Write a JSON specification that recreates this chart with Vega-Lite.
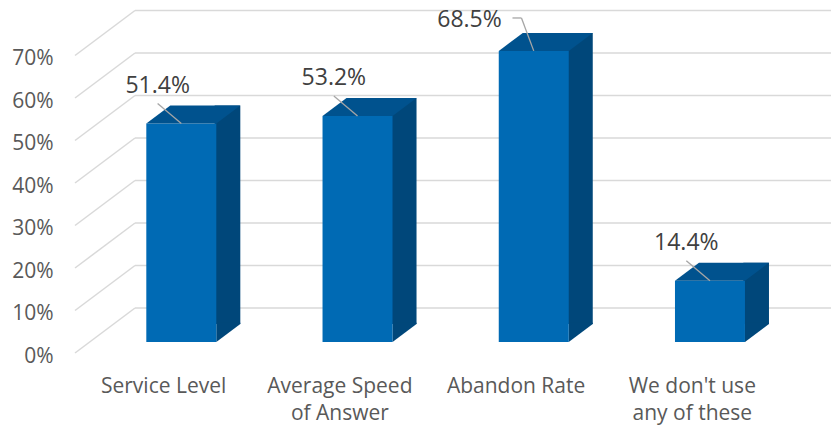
{
  "$schema": "https://vega.github.io/schema/vega-lite/v6.json",
  "width": 756,
  "height": 340,
  "autosize": "none",
  "padding": {"left": 75, "top": 13, "right": 0, "bottom": 77},
  "background": "white",
  "config": {
    "view": {"stroke": null},
    "font": "Open Sans",
    "axisY": {
      "domain": false, "ticks": false, "tickSize": 0, "grid": false,
      "labelPadding": 22, "labelOffset": 3, "labelFont": "Open Sans", "labelFontSize": 21, "labelColor": "#595959"
    }
  },
  "datasets": {
    "responses": [
      {"metric": "Service Level", "share": 0.514},
      {"metric": "Average Speed\nof Answer", "share": 0.532},
      {"metric": "Abandon Rate", "share": 0.685},
      {"metric": "We don't use\nany of these", "share": 0.144}
    ],
    "levels": [
      {"level": 0}, {"level": 0.1}, {"level": 0.2}, {"level": 0.3},
      {"level": 0.4}, {"level": 0.5}, {"level": 0.6}, {"level": 0.7}
    ]
  },
  "layer": [
    {
      "data": {"name": "levels"},
      "mark": {"type": "rule", "color": "#d9d9d9", "strokeWidth": 1.5, "x2Offset": 60, "y2Offset": -45},
      "encoding": {
        "x": {"datum": 0.48, "type": "quantitative", "scale": {"domain": [0.48, 4.77], "nice": false, "zero": false}, "axis": null},
        "x2": {"datum": 0.48},
        "y": {
          "field": "level", "type": "quantitative", "title": null,
          "scale": {"domain": [0, 0.8], "nice": false, "zero": false},
          "axis": {"values": [0, 0.1, 0.2, 0.3, 0.4, 0.5, 0.6, 0.7], "format": "0%"}
        },
        "y2": {"field": "level"}
      }
    },
    {
      "data": {"name": "levels"},
      "mark": {"type": "rule", "color": "#d9d9d9", "strokeWidth": 1.5, "xOffset": 60, "yOffset": -45},
      "encoding": {
        "x": {"datum": 0.48, "type": "quantitative", "axis": null},
        "x2": {"datum": 4.77},
        "y": {"field": "level", "type": "quantitative", "title": null}
      }
    },
    {
      "data": {"name": "responses"},
      "transform": [{"window": [{"op": "row_number", "as": "slot"}]}],
      "encoding": {
        "x": {"field": "slot", "type": "quantitative", "axis": null},
        "y": {"field": "share", "type": "quantitative", "title": null}
      },
      "layer": [
        {
          "mark": {"type": "rect", "color": "#00477a", "xOffset": 48, "x2Offset": 73.67, "yOffset": -29, "y2Offset": -29},
          "encoding": {"x2": {"field": "slot"}, "y2": {"datum": 0}}
        },
        {
          "mark": {"type": "point", "shape": "M-1,0.75L1,-0.75L1,-0.85L-1,-0.85Z", "size": 576, "filled": true, "opacity": 1, "color": "#00477a", "strokeWidth": 0, "xOffset": 61.67, "yOffset": -20},
          "encoding": {"y": {"datum": 0, "type": "quantitative", "title": null}}
        },
        {
          "mark": {"type": "rect", "color": "#006ab4", "xOffset": -20.33, "x2Offset": 49.67, "yOffset": -11, "y2Offset": -11},
          "encoding": {"x2": {"field": "slot"}, "y2": {"datum": 0}}
        },
        {
          "mark": {"type": "point", "shape": "M-1,0.1915L0.4894,0.1915L1,-0.1915L-0.4894,-0.1915Z", "size": 8836, "filled": true, "opacity": 1, "color": "#00528e", "strokeWidth": 0, "xOffset": 26.67, "yOffset": -20}
        },
        {
          "transform": [{"filter": "datum.share < 0.6"}],
          "mark": {"type": "rule", "color": "#a6a6a6", "strokeWidth": 1.3, "xOffset": -9, "yOffset": -31, "x2Offset": 14.67, "y2Offset": -11},
          "encoding": {"x2": {"field": "slot"}, "y2": {"field": "share"}}
        },
        {
          "transform": [{"filter": "datum.share < 0.6"}],
          "mark": {"type": "text", "font": "Open Sans", "fontSize": 23, "color": "#404040", "align": "center", "baseline": "alphabetic", "dx": -9, "dy": -42},
          "encoding": {"text": {"field": "share", "type": "quantitative", "format": ".1%"}}
        },
        {
          "transform": [{"filter": "datum.share >= 0.6"}],
          "mark": {"type": "rule", "color": "#a6a6a6", "strokeWidth": 1.3, "xOffset": -6.6, "yOffset": -43.9, "x2Offset": 2.4, "y2Offset": -43.9},
          "encoding": {"x2": {"field": "slot"}, "y2": {"field": "share"}}
        },
        {
          "transform": [{"filter": "datum.share >= 0.6"}],
          "mark": {"type": "rule", "color": "#a6a6a6", "strokeWidth": 1.3, "xOffset": 2.4, "yOffset": -43.9, "x2Offset": 14.67, "y2Offset": -11},
          "encoding": {"x2": {"field": "slot"}, "y2": {"field": "share"}}
        },
        {
          "transform": [{"filter": "datum.share >= 0.6"}],
          "mark": {"type": "text", "font": "Open Sans", "fontSize": 23, "color": "#404040", "align": "center", "baseline": "alphabetic", "dx": -49.6, "dy": -35},
          "encoding": {"text": {"field": "share", "type": "quantitative", "format": ".1%"}}
        },
        {
          "mark": {"type": "text", "font": "Open Sans", "fontSize": 21, "color": "#595959", "align": "center", "baseline": "alphabetic", "dx": -3, "dy": 40, "lineBreak": "\n", "lineHeight": 27},
          "encoding": {
            "y": {"datum": 0, "type": "quantitative", "title": null},
            "text": {"field": "metric"}
          }
        }
      ]
    }
  ]
}
